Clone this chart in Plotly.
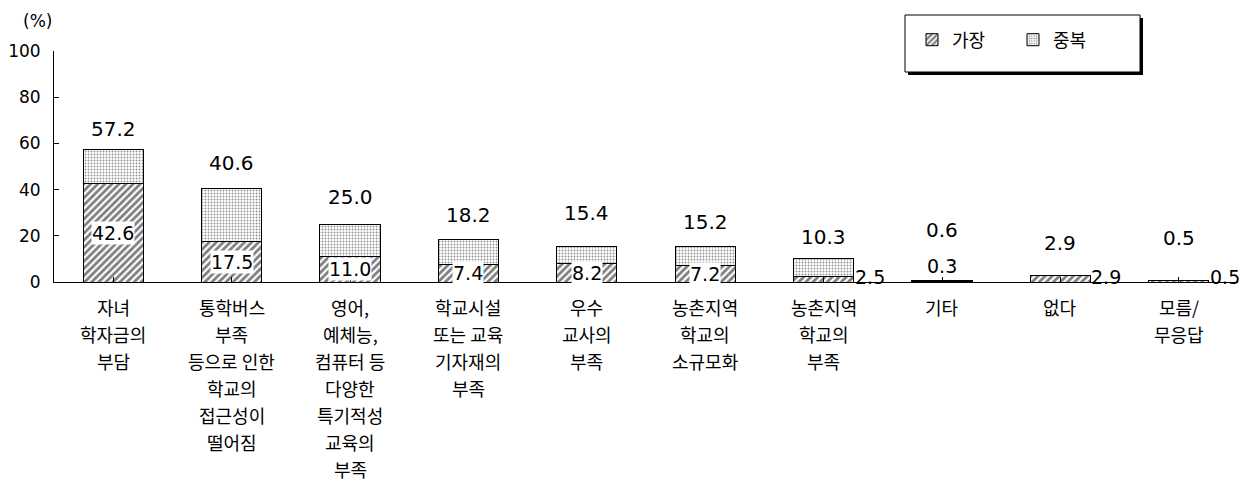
import plotly.graph_objects as go

# ---- data ----
categories = [
    "자녀<br>학자금의<br>부담",
    "통학버스<br>부족<br>등으로 인한<br>학교의<br>접근성이<br>떨어짐",
    "영어,<br>예체능,<br>컴퓨터 등<br>다양한<br>특기적성<br>교육의<br>부족",
    "학교시설<br>또는 교육<br>기자재의<br>부족",
    "우수<br>교사의<br>부족",
    "농촌지역<br>학교의<br>소규모화",
    "농촌지역<br>학교의<br>부족",
    "기타",
    "없다",
    "모름/<br>무응답",
]
most = [42.6, 17.5, 11.0, 7.4, 8.2, 7.2, 2.5, 0.3, 2.9, 0.5]      # 가장
multiple = [57.2, 40.6, 25.0, 18.2, 15.4, 15.2, 10.3, 0.6, 2.9, 0.5]  # 중복 (total)
y_ticks = [0, 20, 40, 60, 80, 100]

# ---- styling helpers (not data) ----
label_mode = ["in", "in", "in", "in", "in", "in", "right", "above", "right", "right"]
total_shift = [7, 11, 13, 11, 19, 11, 7, 37, 18, 29]

NUM_FONT = "DejaVu Sans"
KR_FONT = "Noto Sans CJK KR"

extra = [round(t - m, 1) for t, m in zip(multiple, most)]
x_idx = list(range(len(categories)))

fig = go.Figure()
fig.add_trace(go.Bar(
    x=x_idx, y=most, name="가장", width=0.51,
    marker=dict(color="white", line=dict(color="black", width=1),
                pattern=dict(shape="/", fgcolor="black", bgcolor="white",
                             size=5, solidity=0.55)),
))
fig.add_trace(go.Bar(
    x=x_idx, y=extra, name="중복", width=0.51,
    marker=dict(color="white", line=dict(color="black", width=1),
                pattern=dict(shape=".", fgcolor="#222", bgcolor="white",
                             size=3, solidity=0.3)),
))

ann = []
for i, (t, s) in enumerate(zip(multiple, total_shift)):
    ann.append(dict(x=i, y=t, text=f"{t:.1f}", showarrow=False, yanchor="bottom",
                    yshift=s, font=dict(family=NUM_FONT, size=20, color="black")))
for i, (m, mode) in enumerate(zip(most, label_mode)):
    if mode == "in":
        ann.append(dict(x=i, y=m / 2, text=f"{m:.1f}", showarrow=False,
                        bgcolor="white", borderpad=0,
                        font=dict(family=NUM_FONT, size=19, color="black")))
    elif mode == "right":
        ann.append(dict(x=i, y=0, text=f"{m:.1f}", showarrow=False,
                        xanchor="left", xshift=29, yanchor="middle", yshift=5,
                        font=dict(family=NUM_FONT, size=19, color="black")))
    else:
        ann.append(dict(x=i, y=0, text=f"{m:.1f}", showarrow=False,
                        yanchor="bottom", yshift=3,
                        font=dict(family=NUM_FONT, size=19, color="black")))
for i, c in enumerate(categories):
    for j, line in enumerate(c.split("<br>")):
        ann.append(dict(x=i, y=0, text=line, showarrow=False, yanchor="middle",
                        yshift=-(25 + j * 27),
                        font=dict(family=KR_FONT, size=18, color="black")))

# page body has an 8px margin; compensate so the plot sits where the reference has it
OFF = 8
L, R, T, B = 54 - OFF, 15, 51 - OFF, 201
W, H = 1253 - OFF, 483 - OFF
pw, ph = W - L - R, H - T - B
def px(x):
    return (x - OFF - L) / pw
def py(y):
    return (H - B - (y - OFF)) / ph

ann.append(dict(xref="paper", yref="paper", x=px(37), y=py(21), text="(%)",
                xanchor="center", yanchor="middle",
                showarrow=False, font=dict(family=NUM_FONT, size=17, color="black")))

shapes = [
    dict(type="rect", xref="paper", yref="paper", x0=px(908), x1=px(1143),
         y0=py(75), y1=py(18), fillcolor="black", line=dict(width=0)),
    dict(type="rect", xref="paper", yref="paper", x0=px(905), x1=px(1140),
         y0=py(72), y1=py(15), fillcolor="white", line=dict(color="black", width=1)),
]

fig.update_layout(
    width=W, height=H,
    margin=dict(l=L, r=R, t=T, b=B, autoexpand=False),
    barmode="stack",
    plot_bgcolor="white", paper_bgcolor="white",
    font=dict(family=NUM_FONT, size=17, color="black"),
    showlegend=True,
    legend=dict(orientation="h", x=px(912), xanchor="left", y=py(40), yanchor="middle",
                font=dict(family=KR_FONT, size=18, color="black"),
                bgcolor="rgba(0,0,0,0)", borderwidth=0, entrywidth=56,
                traceorder="normal"),
    annotations=ann,
    shapes=shapes,
    xaxis=dict(range=[-0.5, len(categories) - 0.5], tickmode="array",
               tickvals=x_idx, showticklabels=False, automargin=False,
               showline=True, linecolor="black", linewidth=1,
               ticks="inside", tickson="boundaries", ticklen=5, tickcolor="black",
               showgrid=False, zeroline=False, fixedrange=True),
    yaxis=dict(range=[0, 100], tickvals=y_ticks, showline=True, linecolor="black",
               linewidth=1, ticks="inside", ticklen=5, tickcolor="black",
               showgrid=False, zeroline=False, ticklabelstandoff=9, automargin=False,
               tickfont=dict(family=NUM_FONT, size=17, color="black")),
)

fig.write_html("out.html")
